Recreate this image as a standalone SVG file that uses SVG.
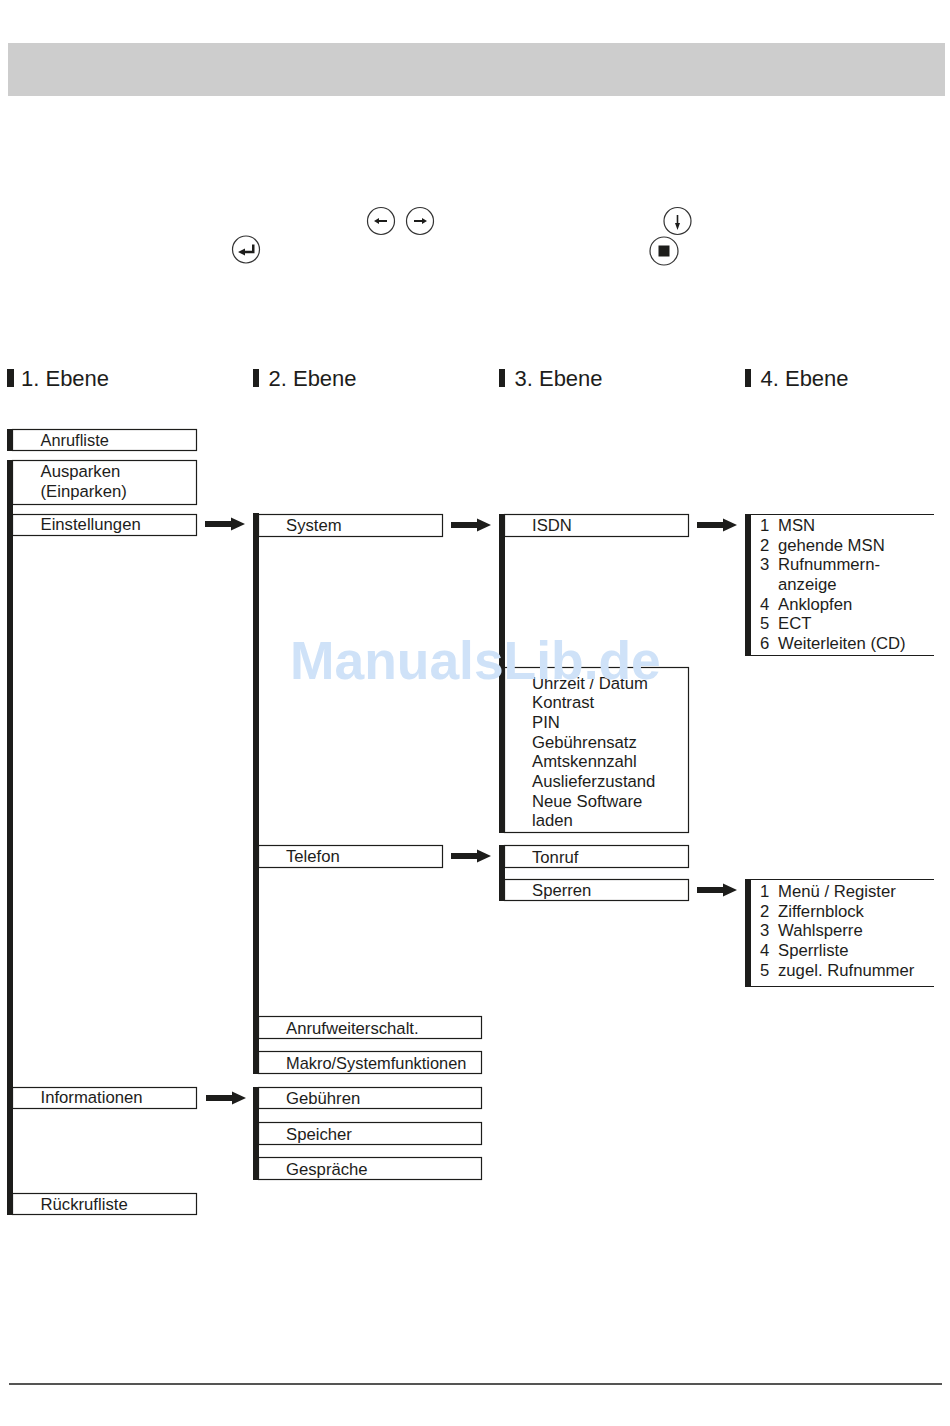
<svg xmlns="http://www.w3.org/2000/svg" width="950" height="1426" viewBox="0 0 950 1426">
<style>
text{font-family:"Liberation Sans",Arial,sans-serif;font-size:16.7px;fill:#1d1d1b}
.h{font-size:22px}
.s{font-size:16.4px}
.b{fill:#fff;stroke:#1d1d1b;stroke-width:1.2}
.bar{fill:#1d1d1b}
.ln{stroke:#1d1d1b;stroke-width:1.2;fill:none}
.k{fill:#fff;stroke:#333;stroke-width:1.2}
.wm{font-family:"Liberation Sans",Arial,sans-serif;font-size:53.4px;font-weight:bold;fill:#cfe2f8}
</style>
<defs>
<g id="arrow"><rect x="0" y="-3" width="28" height="6" fill="#1d1d1b"/><path d="M26 -6.500L40 0L26 6.500Z" fill="#1d1d1b"/></g>
</defs>
<rect width="950" height="1426" fill="#fff"/>
<rect x="8" y="43" width="937" height="53" fill="#cdcdcd"/>
<g id="keys">
<circle class="k" cx="381" cy="221" r="13.500"/><path d="M374 221l5-3v2h8v2h-8v2z" fill="#1d1d1b"/>
<circle class="k" cx="420" cy="221" r="13.500"/><path d="M427 221l-5-3v2h-8v2h8v2z" fill="#1d1d1b"/>
<circle class="k" cx="677.500" cy="221" r="13.500"/><path d="M677.500 230l-2.500-7h1.700v-8h1.600v8h1.700z" fill="#1d1d1b"/>
<circle class="k" cx="246" cy="249.500" r="13.500"/><path d="M238 252l7-3.500v2.300h7v-6.300h2.500v8.800h-9.500v2.300z" fill="#1d1d1b"/>
<circle class="k" cx="664" cy="251" r="14"/><rect x="658.500" y="245.500" width="11" height="11" fill="#1d1d1b"/>
</g>
<g id="headers">
<rect class="bar" x="7" y="369" width="7" height="18"/><text class="h" x="21" y="386">1. Ebene</text>
<rect class="bar" x="253" y="369" width="6" height="18"/><text class="h" x="268.500" y="386">2. Ebene</text>
<rect class="bar" x="499" y="369" width="6" height="18"/><text class="h" x="514.500" y="386">3. Ebene</text>
<rect class="bar" x="745" y="369" width="6" height="18"/><text class="h" x="760.500" y="386">4. Ebene</text>
</g>
<g id="connectors">
<use href="#arrow" x="205" y="524"/>
<use href="#arrow" x="451" y="525"/>
<use href="#arrow" x="697" y="525"/>
<use href="#arrow" x="451" y="856"/>
<use href="#arrow" x="697" y="890"/>
<use href="#arrow" x="206" y="1098"/>
</g>
<g id="level1">
<rect class="bar" x="7" y="429" width="6" height="22"/>
<rect class="bar" x="7" y="460" width="6" height="755"/>
<g id="n-anrufliste"><rect class="b" x="12.500" y="429.500" width="184" height="21"/><text class="s" x="40.500" y="445.500">Anrufliste</text></g>
<g id="n-ausparken"><rect class="b" x="12.500" y="460.500" width="184" height="44"/><text x="40.500" y="476.500">Ausparken</text><text x="40.500" y="496.500">(Einparken)</text></g>
<g id="n-einstellungen"><rect class="b" x="12.500" y="514.500" width="184" height="21"/><text x="40.500" y="530">Einstellungen</text></g>
<g id="n-informationen"><rect class="b" x="12.500" y="1087.500" width="184" height="21"/><text x="40.500" y="1103">Informationen</text></g>
<g id="n-rueckrufliste"><rect class="b" x="12.500" y="1193.500" width="184" height="21"/><text x="40.500" y="1209.500">Rückrufliste</text></g>
</g>
<g id="level2">
<rect class="bar" x="253" y="513" width="6" height="561"/>
<rect class="bar" x="253" y="1087" width="6" height="93"/>
<g id="n-system"><rect class="b" x="258.500" y="514.500" width="184" height="22"/><text x="286" y="530.500">System</text></g>
<g id="n-telefon"><rect class="b" x="258.500" y="845.500" width="184" height="22"/><text x="286" y="861.500">Telefon</text></g>
<g id="n-anrufw"><rect class="b" x="258.500" y="1016.500" width="223" height="22"/><text x="286" y="1033.500">Anrufweiterschalt.</text></g>
<g id="n-makro"><rect class="b" x="258.500" y="1051.500" width="223" height="22"/><text class="s" x="286" y="1068.500">Makro/Systemfunktionen</text></g>
<g id="n-gebuehren"><rect class="b" x="258.500" y="1087.500" width="223" height="21"/><text x="286" y="1103.500">Gebühren</text></g>
<g id="n-speicher"><rect class="b" x="258.500" y="1122.500" width="223" height="22"/><text x="286" y="1139.500">Speicher</text></g>
<g id="n-gespraeche"><rect class="b" x="258.500" y="1157.500" width="223" height="22"/><text x="286" y="1174.500">Gespräche</text></g>
</g>
<g id="level3">
<rect class="bar" x="499" y="514" width="6" height="319"/>
<rect class="bar" x="499" y="845" width="6" height="56"/>
<g id="n-isdn"><rect class="b" x="504.500" y="514.500" width="184" height="22"/><text x="532" y="531">ISDN</text></g>
<g id="n-system-list"><rect class="b" x="504.500" y="667.500" width="184" height="165"/>
<text x="532" y="688.500">Uhrzeit / Datum</text><text x="532" y="708">Kontrast</text><text x="532" y="727.500">PIN</text><text x="532" y="747.500">Gebührensatz</text><text x="532" y="767">Amtskennzahl</text><text x="532" y="786.500">Auslieferzustand</text><text x="532" y="806.500">Neue Software</text><text x="532" y="825.500">laden</text></g>
<g id="n-tonruf"><rect class="b" x="504.500" y="845.500" width="184" height="22"/><text x="532" y="862.500">Tonruf</text></g>
<g id="n-sperren"><rect class="b" x="504.500" y="879.500" width="184" height="21"/><text x="532" y="895.500">Sperren</text></g>
</g>
<g id="level4">
<g id="n-msn-list"><rect class="bar" x="745" y="514" width="6" height="142"/><path class="ln" d="M750 514.500H934M750 655.500H934"/>
<text x="760" y="530.500">1</text><text x="778" y="530.500">MSN</text>
<text x="760" y="550.500">2</text><text x="778" y="550.500">gehende MSN</text>
<text x="760" y="570">3</text><text x="778" y="570">Rufnummern-</text>
<text x="778" y="589.500">anzeige</text>
<text x="760" y="609.500">4</text><text x="778" y="609.500">Anklopfen</text>
<text x="760" y="628.500">5</text><text x="778" y="628.500">ECT</text>
<text x="760" y="648.500">6</text><text x="778" y="648.500">Weiterleiten (CD)</text></g>
<g id="n-sperr-list"><rect class="bar" x="745" y="879" width="6" height="108"/><path class="ln" d="M750 879.500H934M750 986.500H934"/>
<text x="760" y="896.500">1</text><text x="778" y="896.500">Menü / Register</text>
<text x="760" y="916.500">2</text><text x="778" y="916.500">Ziffernblock</text>
<text x="760" y="936">3</text><text x="778" y="936">Wahlsperre</text>
<text x="760" y="955.500">4</text><text x="778" y="955.500">Sperrliste</text>
<text x="760" y="975.500">5</text><text x="778" y="975.500">zugel. Rufnummer</text></g>
</g>
<text class="wm" x="290" y="679">ManualsLib.de</text>
<path d="M9 1384H942" stroke="#1d1d1b" stroke-width="1.600"/>
</svg>
